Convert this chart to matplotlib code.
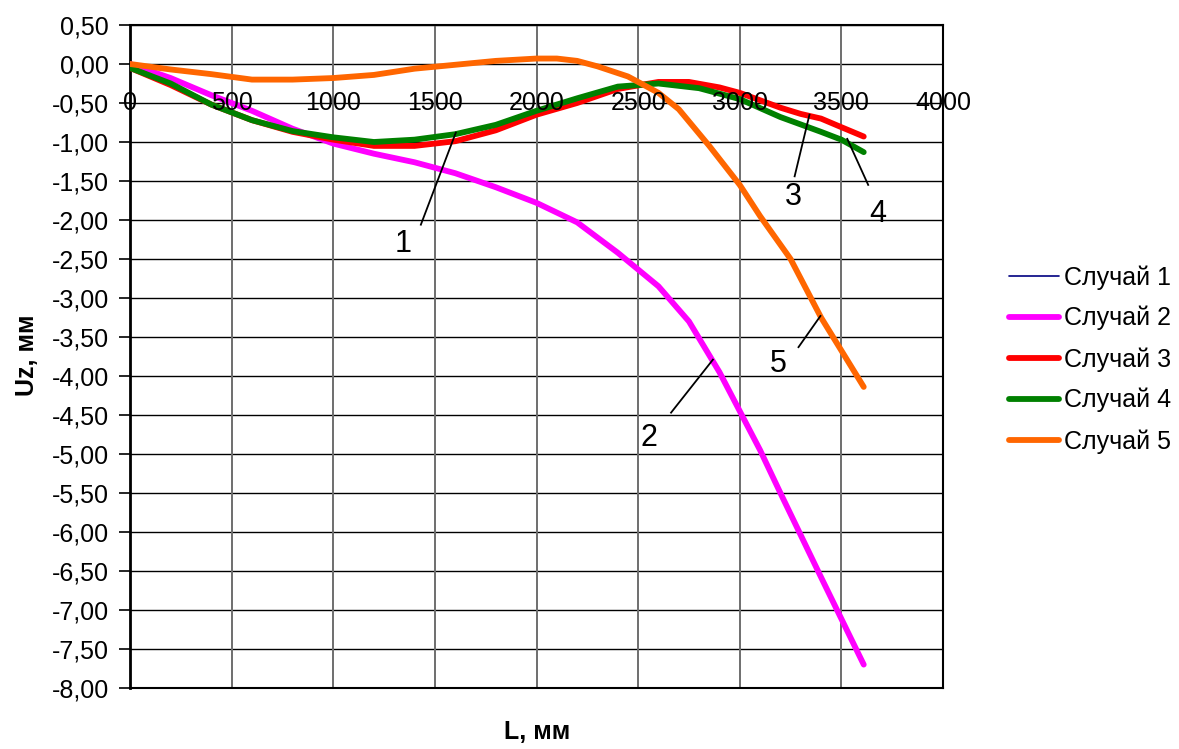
import matplotlib
matplotlib.use("Agg")
import matplotlib.pyplot as plt

plt.rcParams['font.family'] = ['Liberation Sans', 'DejaVu Sans']

# ---- data ----
L1 = [0, 200, 400, 600, 800, 1000, 1200, 1400, 1600, 1800, 2000, 2200, 2400, 2600, 2800, 3000, 3200, 3400, 3500, 3610]
U1 = [-0.05, -0.25, -0.52, -0.72, -0.86, -0.94, -1.00, -0.97, -0.90, -0.78, -0.60, -0.44, -0.29, -0.25, -0.31, -0.45, -0.68, -0.87, -0.97, -1.13]

L2 = [0, 200, 400, 600, 800, 1000, 1200, 1400, 1600, 1800, 2000, 2200, 2400, 2600, 2750, 2900, 3000, 3100, 3200, 3400, 3610]
U2 = [0.00, -0.18, -0.40, -0.60, -0.83, -1.02, -1.15, -1.26, -1.40, -1.58, -1.78, -2.03, -2.42, -2.85, -3.30, -3.95, -4.45, -4.95, -5.50, -6.58, -7.70]

L3 = [0, 200, 400, 600, 800, 1000, 1200, 1400, 1600, 1800, 2000, 2200, 2400, 2600, 2750, 2900, 3000, 3200, 3300, 3400, 3500, 3610]
U3 = [-0.05, -0.27, -0.52, -0.72, -0.87, -0.97, -1.05, -1.05, -0.99, -0.85, -0.65, -0.50, -0.32, -0.23, -0.23, -0.30, -0.37, -0.56, -0.64, -0.70, -0.81, -0.93]

L4 = [0, 200, 400, 600, 800, 1000, 1200, 1400, 1600, 1800, 2000, 2200, 2400, 2600, 2800, 3000, 3200, 3400, 3500, 3610]
U4 = [-0.05, -0.25, -0.52, -0.72, -0.86, -0.94, -1.00, -0.97, -0.90, -0.78, -0.60, -0.44, -0.29, -0.25, -0.31, -0.45, -0.68, -0.87, -0.97, -1.13]

L5 = [0, 200, 400, 600, 800, 1000, 1200, 1400, 1600, 1800, 2000, 2100, 2200, 2300, 2450, 2600, 2700, 2850, 3000, 3100, 3250, 3400, 3610]
U5 = [0.00, -0.07, -0.13, -0.20, -0.20, -0.18, -0.14, -0.06, -0.01, 0.04, 0.07, 0.07, 0.04, -0.03, -0.16, -0.37, -0.58, -1.05, -1.55, -1.95, -2.50, -3.25, -4.14]

labels = ['Случай 1', 'Случай 2', 'Случай 3', 'Случай 4', 'Случай 5']
colors = ['#000080', '#FF00FF', '#FF0000', '#008000', '#FF6600']
widths = [1.2, 4.2, 4.2, 4.2, 4.2]

xticks = [0, 500, 1000, 1500, 2000, 2500, 3000, 3500, 4000]
yticks = [0.5, 0.0, -0.5, -1.0, -1.5, -2.0, -2.5, -3.0, -3.5, -4.0, -4.5, -5.0, -5.5, -6.0, -6.5, -7.0, -7.5, -8.0]
ytick_labels = ['0,50', '0,00', '-0,50', '-1,00', '-1,50', '-2,00', '-2,50', '-3,00', '-3,50',
                '-4,00', '-4,50', '-5,00', '-5,50', '-6,00', '-6,50', '-7,00', '-7,50', '-8,00']

# annotation: label, text pos (x,y), line start, line end
ann_text = ['1', '2', '3', '4', '5']
ann_pos = [(1343, -2.31), (2554, -4.79), (3265, -1.71), (3681, -1.92), (3191, -3.85)]
ann_from = [(1431, -2.06), (2662, -4.47), (3270, -1.44), (3632, -1.55), (3289, -3.63)]
ann_to = [(1603, -0.88), (2868, -3.79), (3343, -0.65), (3529, -0.96), (3397, -3.23)]

FS = 18.0

# ---- figure ----
fig = plt.figure(figsize=(11.79, 7.49), dpi=100)
ax = fig.add_axes([130 / 1179, 1 - 688 / 749, (943 - 130) / 1179, (688 - 25) / 749])

ax.set_xlim(0, 4000)
ax.set_ylim(-8.0, 0.5)

# grid
for yv in yticks:
    ax.axhline(yv, color='black', lw=1.0, zorder=1)
for xv in xticks[1:-1]:
    ax.axvline(xv, color='#6e6e6e', lw=1.4, zorder=1)

series = [(L1, U1), (L2, U2), (L3, U3), (L4, U4), (L5, U5)]
handles = []
for (xs, ys), lab, c, w in zip(series, labels, colors, widths):
    h, = ax.plot(xs, ys, color=c, lw=w, label=lab, solid_capstyle='round',
                 solid_joinstyle='round', zorder=3)
    handles.append(h)

# annotations
for t, p, a, b in zip(ann_text, ann_pos, ann_from, ann_to):
    ax.plot([a[0], b[0]], [a[1], b[1]], color='black', lw=1.3, zorder=4)
    ax.text(p[0], p[1], t, fontsize=22, ha='center', va='center', zorder=5)

# spines
for s in ['top', 'right', 'bottom']:
    ax.spines[s].set_linewidth(1.5)
    ax.spines[s].set_color('black')
ax.spines['left'].set_linewidth(2.0)

ax.set_yticks(yticks)
ax.set_yticklabels(ytick_labels, fontsize=FS)
ax.tick_params(axis='y', direction='out', length=8, width=1.2, pad=7)
ax.set_xticks(xticks)
ax.set_xticklabels([])
ax.tick_params(axis='x', length=0)

for xv in xticks:
    ax.text(xv, -0.5, str(xv), fontsize=FS, ha='center', va='center', zorder=6)

fig.text(27 / 1179, 1 - 355 / 749, 'Uz, мм', rotation=90, fontsize=FS, fontweight='bold',
         ha='center', va='center')
fig.text(537 / 1179, 1 - 732 / 749, 'L, мм', fontsize=FS, fontweight='bold',
         ha='center', va='center')

leg = fig.legend(handles=handles, labels=labels, loc='upper left',
                 bbox_to_anchor=(999 / 1179, 1 - 255 / 749), frameon=False,
                 fontsize=FS, handlelength=2.0, handletextpad=0.2, labelspacing=0.66,
                 borderaxespad=0)

fig.savefig('out.png', dpi=100)
